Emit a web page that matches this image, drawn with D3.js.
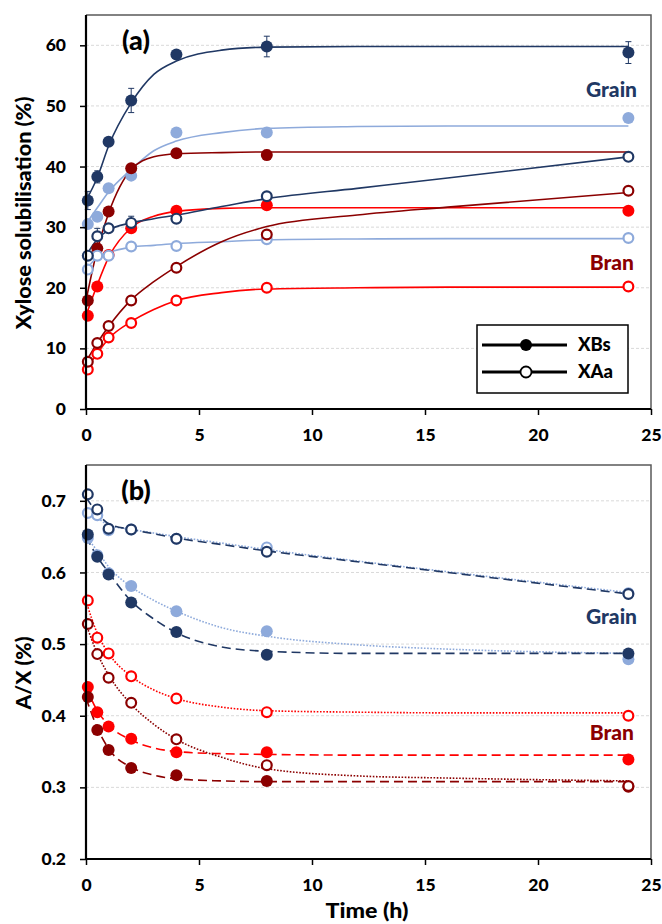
<!DOCTYPE html>
<html>
<head>
<meta charset="utf-8">
<script src="https://cdn.jsdelivr.net/npm/d3@7"></script>
<style>
  body { margin: 0; background: #fff; }
  text { font-family: Lato, "Open Sans", sans-serif; font-weight: 900; }
</style>
</head>
<body>
<div id="main"></div>
<script>
// sampling times (h) and tick labels
const times = [0.08, 0.5, 1, 2, 4, 8, 24];
const fitTimes = [0, 0.5, 1, 2, 3, 4, 6, 8, 12, 16, 24];
const xTicks = [0, 5, 10, 15, 20, 25];
const xylTicks = [0, 10, 20, 30, 40, 50, 60];
const axTicks = [0.2, 0.3, 0.4, 0.5, 0.6, 0.7];

// (a) xylose solubilisation (%) - measured points
const xylGrainDarkXBs = [34.4, 38.3, 44.1, 50.9, 58.5, 59.8, 58.8];
const xylGrainLightXBs = [30.5, 31.7, 36.4, 38.5, 45.6, 45.6, 48.0];
const xylBranDarkXBs = [17.9, 26.5, 32.6, 39.7, 42.2, 41.9, null];
const xylBranRedXBs = [15.4, 20.2, 25.4, 29.8, 32.7, 33.6, 32.7];
const xylGrainDarkXAa = [25.3, 28.5, 29.8, 30.7, 31.4, 35.1, 41.6];
const xylGrainLightXAa = [23.0, 25.3, 25.3, 26.8, 26.9, 28.0, 28.2];
const xylBranDarkXAa = [7.8, 10.9, 13.7, 17.9, 23.3, 28.8, 36.0];
const xylBranRedXAa = [6.5, 9.1, 11.8, 14.2, 17.9, 20.0, 20.2];

// (a) error bars (+/-)
const xylGrainDarkXBsErr = [1.5, 1.0, 0, 2.0, 0, 1.7, 1.8];
const xylGrainDarkXAaErr = [0, 1.3, 0, 1.1, 0, 0, 0];
const xylBranDarkXBsErr = [0, 0, 0, 0, 0, 0.8, 0];

// (a) fitted curves, read at fitTimes
const xylGrainDarkXBsFit = [34.4, 38.2, 43.4, 50.5, 55.2, 57.4, 59.2, 59.7, 59.8, 59.8, 59.8];
const xylGrainLightXBsFit = [30.5, 33.2, 35.8, 39.5, 42.6, 44.2, 45.6, 46.3, 46.6, 46.7, 46.7];
const xylBranDarkXBsFit = [17.9, 26.3, 32.3, 39.5, 41.6, 42.1, 42.3, 42.4, 42.4, 42.4, 42.4];
const xylBranRedXBsFit = [15.4, 20.5, 25.0, 29.9, 31.8, 32.6, 33.1, 33.2, 33.2, 33.2, 33.2];
const xylGrainDarkXAaFit = [25.3, 28.0, 29.5, 30.7, 31.4, 32.0, 33.4, 34.7, 36.4, 38.1, 41.6];
const xylGrainLightXAaFit = [23.0, 25.0, 25.8, 26.7, 27.0, 27.3, 27.6, 27.9, 28.05, 28.1, 28.1];
const xylBranDarkXAaFit = [7.8, 10.9, 13.6, 18.0, 21.0, 23.5, 27.6, 30.1, 32.0, 33.3, 35.7];
const xylBranRedXAaFit = [6.5, 9.2, 11.6, 14.4, 16.4, 17.9, 19.2, 19.8, 20.0, 20.1, 20.1];

// (b) A/X ratio - measured points
const axGrainDarkXBs = [0.653, 0.622, 0.597, 0.558, 0.517, 0.485, 0.487];
const axGrainLightXBs = [0.648, 0.624, 0.599, 0.581, 0.546, 0.518, 0.479];
const axBranDarkXBs = [0.426, 0.380, 0.352, 0.327, 0.317, 0.309, 0.301];
const axBranRedXBs = [0.440, 0.405, 0.385, 0.368, 0.349, 0.349, 0.339];
const axGrainDarkXAa = [0.709, 0.688, 0.661, 0.660, 0.647, 0.629, 0.570];
const axGrainLightXAa = [0.683, 0.680, 0.659, 0.660, 0.647, 0.635, 0.571];
const axBranDarkXAa = [0.528, 0.486, 0.453, 0.418, 0.367, 0.331, 0.302];
const axBranRedXAa = [0.561, 0.509, 0.487, 0.455, 0.424, 0.405, 0.400];

// (b) fitted curves, read at fitTimes
const axGrainDarkXBsFit = [0.650, 0.622, 0.600, 0.560, 0.535, 0.516, 0.496, 0.490, 0.487, 0.487, 0.487];
const axGrainLightXBsFit = [0.650, 0.630, 0.608, 0.580, 0.561, 0.546, 0.523, 0.511, 0.499, 0.493, 0.487];
const axGrainDarkXAaFit = [0.705, 0.683, 0.668, 0.660, 0.654, 0.648, 0.639, 0.630, 0.615, 0.600, 0.570];
const axGrainLightXAaFit = [0.683, 0.676, 0.666, 0.660, 0.655, 0.650, 0.641, 0.632, 0.616, 0.601, 0.572];
const axBranDarkXBsFit = [0.425, 0.383, 0.354, 0.328, 0.317, 0.312, 0.309, 0.308, 0.308, 0.308, 0.308];
const axBranRedXBsFit = [0.440, 0.407, 0.387, 0.366, 0.355, 0.350, 0.347, 0.346, 0.345, 0.345, 0.345];
const axBranDarkXAaFit = [0.528, 0.487, 0.457, 0.416, 0.388, 0.367, 0.342, 0.326, 0.316, 0.313, 0.309];
const axBranRedXAaFit = [0.560, 0.515, 0.487, 0.455, 0.436, 0.424, 0.412, 0.407, 0.405, 0.404, 0.404];

const ctx = {
    w: 662,
    h: 924,
    left: 86,
    right: 651,
    a: { top: 15, bottom: 409 },
    b: { top: 465, bottom: 859 },
    colors: { grainDark: "#203864", grainLight: "#8eaadb", branDark: "#8b0000", branRed: "#ff0000" },
    dash: "9,5",
    dot: "1.6,1.6",
};

const xScale = d3.scaleLinear().domain([0, 25]).range([ctx.left, ctx.right]);

function series(key, open, pts, fit, err, dash) {
    return { color: ctx.colors[key], open: open, pts: pts, fit: fit, err: err, dash: dash };
}

function drawPanel(svg, box, yScale, yTicks, yFmt, list) {
    const g = svg.append("g");

    // gridlines
    g.selectAll("line.grid")
        .data(yTicks.slice(1))
        .enter().append("line")
        .attr("x1", ctx.left).attr("x2", ctx.right)
        .attr("y1", d => yScale(d)).attr("y2", d => yScale(d))
        .attr("stroke", "#d9d9d9").attr("stroke-dasharray", "3,2");

    // fitted curves
    const line = d3.line()
        .x((d, i) => xScale(fitTimes[i]))
        .y(d => yScale(d))
        .curve(d3.curveMonotoneX);
    list.forEach(s => {
        g.append("path")
            .attr("d", line(s.fit))
            .attr("fill", "none")
            .attr("stroke", s.color)
            .attr("stroke-width", 1.6)
            .attr("stroke-dasharray", s.dash);
    });

    // error bars
    list.filter(s => s.err).forEach(s => {
        s.pts.forEach((v, i) => {
            const e = s.err[i];
            if (v == null || !e) return;
            const x = xScale(times[i]);
            const y0 = yScale(v - e), y1 = yScale(v + e);
            g.append("line").attr("x1", x).attr("x2", x).attr("y1", y0).attr("y2", y1)
                .attr("stroke", s.color).attr("stroke-width", 1);
            [y0, y1].forEach(y => g.append("line")
                .attr("x1", x - 3).attr("x2", x + 3).attr("y1", y).attr("y2", y)
                .attr("stroke", s.color).attr("stroke-width", 1));
        });
    });

    // markers: filled first, then open on top
    list.filter(s => !s.open).concat(list.filter(s => s.open)).forEach(s => {
        g.selectAll(null)
            .data(s.pts.map((v, i) => [times[i], v]).filter(d => d[1] != null))
            .enter().append("circle")
            .attr("cx", d => xScale(d[0]))
            .attr("cy", d => yScale(d[1]))
            .attr("r", s.open ? 4.9 : 6)
            .attr("fill", s.open ? "#fff" : s.color)
            .attr("stroke", s.open ? s.color : "none")
            .attr("stroke-width", 2.2);
    });

    // frame: grey top/right, black axes
    g.append("path")
        .attr("d", `M${ctx.left},${box.top}H${ctx.right}V${box.bottom}`)
        .attr("fill", "none").attr("stroke", "#595959").attr("stroke-width", 1.5);

    const yAxis = d3.axisLeft(yScale).tickValues(yTicks).tickFormat(yFmt).tickSize(6).tickPadding(14);
    const xAxis = d3.axisBottom(xScale).tickValues(xTicks).tickFormat(d3.format("d")).tickSize(6).tickPadding(14);

    const ya = g.append("g").attr("transform", `translate(${ctx.left},0)`).call(yAxis);
    const xa = g.append("g").attr("transform", `translate(0,${box.bottom})`).call(xAxis);
    [ya, xa].forEach(a => {
        a.select(".domain").attr("stroke", "#000").attr("stroke-width", 2.2);
        a.selectAll(".tick line").attr("stroke", "#000").attr("stroke-width", 1.5);
        a.selectAll("text").style("font-size", "17.5px").attr("fill", "#000")
            .style("font-family", "Lato, 'Open Sans', sans-serif").style("font-weight", "900");
    });
    ya.select(".domain").attr("d", `M0,${box.top}V${box.bottom}`);
    xa.select(".domain").attr("d", `M${ctx.left},0H${ctx.right}`);
    return g;
}

function label(svg, x, y, txt, size, color, anchor) {
    return svg.append("text")
        .attr("x", x).attr("y", y)
        .attr("text-anchor", anchor || "middle")
        .attr("fill", color || "#000")
        .style("font-size", size + "px")
        .text(txt);
}

function createViz() {
    const svg = d3.select("#main").append("svg")
        .attr("width", ctx.w).attr("height", ctx.h);

    // panel (a)
    const yA = d3.scaleLinear().domain([0, 65]).range([ctx.a.bottom, ctx.a.top]);
    drawPanel(svg, ctx.a, yA, xylTicks, d3.format("d"), [
        series("grainLight", false, xylGrainLightXBs, xylGrainLightXBsFit, null, null),
        series("branRed", false, xylBranRedXBs, xylBranRedXBsFit, null, null),
        series("branDark", false, xylBranDarkXBs, xylBranDarkXBsFit, xylBranDarkXBsErr, null),
        series("grainDark", false, xylGrainDarkXBs, xylGrainDarkXBsFit, xylGrainDarkXBsErr, null),
        series("grainLight", true, xylGrainLightXAa, xylGrainLightXAaFit, null, null),
        series("branRed", true, xylBranRedXAa, xylBranRedXAaFit, null, null),
        series("branDark", true, xylBranDarkXAa, xylBranDarkXAaFit, null, null),
        series("grainDark", true, xylGrainDarkXAa, xylGrainDarkXAaFit, xylGrainDarkXAaErr, null),
    ]);

    // panel (b)
    const yB = d3.scaleLinear().domain([0.2, 0.75]).range([ctx.b.bottom, ctx.b.top]);
    drawPanel(svg, ctx.b, yB, axTicks, d3.format(".1f"), [
        series("grainLight", false, axGrainLightXBs, axGrainLightXBsFit, null, ctx.dot),
        series("branRed", false, axBranRedXBs, axBranRedXBsFit, null, ctx.dash),
        series("branDark", false, axBranDarkXBs, axBranDarkXBsFit, null, ctx.dash),
        series("grainDark", false, axGrainDarkXBs, axGrainDarkXBsFit, null, ctx.dash),
        series("grainLight", true, axGrainLightXAa, axGrainLightXAaFit, null, ctx.dot),
        series("branRed", true, axBranRedXAa, axBranRedXAaFit, null, ctx.dot),
        series("branDark", true, axBranDarkXAa, axBranDarkXAaFit, null, ctx.dot),
        series("grainDark", true, axGrainDarkXAa, axGrainDarkXAaFit, null, ctx.dash),
    ]);

    // panel letters and group labels
    label(svg, 136, 50, "(a)", 27);
    label(svg, 136, 500, "(b)", 27);
    label(svg, 637, 97, "Grain", 21, ctx.colors.grainDark, "end");
    label(svg, 634, 270, "Bran", 21, ctx.colors.branDark, "end");
    label(svg, 637, 624, "Grain", 21, ctx.colors.grainDark, "end");
    label(svg, 634, 740, "Bran", 21, ctx.colors.branDark, "end");

    // axis titles
    label(svg, 0, 0, "Xylose solubilisation (%)", 20)
        .attr("textLength", 233).attr("lengthAdjust", "spacingAndGlyphs")
        .attr("transform", "translate(31,213) rotate(-90)");
    label(svg, 0, 0, "A/X (%)", 20)
        .attr("textLength", 73).attr("lengthAdjust", "spacingAndGlyphs")
        .attr("transform", "translate(31,673) rotate(-90)");
    label(svg, 367, 918, "Time (h)", 20)
        .attr("textLength", 83).attr("lengthAdjust", "spacingAndGlyphs");

    // legend
    const lg = svg.append("g");
    lg.append("rect").attr("x", 477).attr("y", 325).attr("width", 151).attr("height", 68)
        .attr("fill", "#fff").attr("stroke", "#000").attr("stroke-width", 1.5);
    [[345, false, "XBs"], [372, true, "XAa"]].forEach(([y, open, txt]) => {
        lg.append("line").attr("x1", 482).attr("x2", 567).attr("y1", y).attr("y2", y)
            .attr("stroke", "#000").attr("stroke-width", 3);
        lg.append("circle").attr("cx", 526).attr("cy", y).attr("r", open ? 5.5 : 6)
            .attr("fill", open ? "#fff" : "#000").attr("stroke", "#000").attr("stroke-width", open ? 1.8 : 0);
        label(lg, 578, y + 6, txt, 18.5, "#000", "start");
    });
}

createViz();
</script>
</body>
</html>
